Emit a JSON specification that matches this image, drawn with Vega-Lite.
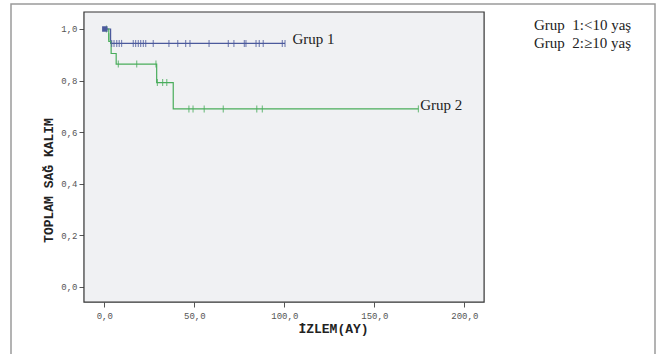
{
  "$schema": "https://vega.github.io/schema/vega-lite/v6.json",
  "width": 644,
  "height": 352,
  "autosize": {"type": "none"},
  "padding": {"left": 11, "top": 4, "right": 10, "bottom": 0},
  "background": "#ffffff",
  "config": {
    "view": {"fill": "#ffffff", "stroke": "#9a9a9a", "strokeWidth": 1.5},
    "axis": {
      "domain": false, "grid": false,
      "tickColor": "#555555", "tickSize": 5,
      "labelFont": "Liberation Mono", "labelFontSize": 9, "labelColor": "#555555",
      "titleFont": "Liberation Mono", "titleFontSize": 13, "titleFontWeight": "bold", "titleColor": "#222222"
    }
  },
  "datasets": {
    "curve": [
      {"group": "Grup \u00a01:<10 yaş", "t": 0, "s": 1.0},
      {"group": "Grup \u00a01:<10 yaş", "t": 3.5, "s": 0.944},
      {"group": "Grup \u00a01:<10 yaş", "t": 100.4, "s": 0.944},
      {"group": "Grup \u00a02:≥10 yaş", "t": 0, "s": 1.0},
      {"group": "Grup \u00a02:≥10 yaş", "t": 2.5, "s": 0.952},
      {"group": "Grup \u00a02:≥10 yaş", "t": 3.8, "s": 0.905},
      {"group": "Grup \u00a02:≥10 yaş", "t": 6.6, "s": 0.864},
      {"group": "Grup \u00a02:≥10 yaş", "t": 29.1, "s": 0.792},
      {"group": "Grup \u00a02:≥10 yaş", "t": 38.3, "s": 0.69},
      {"group": "Grup \u00a02:≥10 yaş", "t": 174.5, "s": 0.69}
    ],
    "censor": [
      {"group": "Grup \u00a01:<10 yaş", "t": 4.1, "s": 0.944},
      {"group": "Grup \u00a01:<10 yaş", "t": 5.4, "s": 0.944},
      {"group": "Grup \u00a01:<10 yaş", "t": 6.9, "s": 0.944},
      {"group": "Grup \u00a01:<10 yaş", "t": 8.3, "s": 0.944},
      {"group": "Grup \u00a01:<10 yaş", "t": 9.6, "s": 0.944},
      {"group": "Grup \u00a01:<10 yaş", "t": 16.1, "s": 0.944},
      {"group": "Grup \u00a01:<10 yaş", "t": 17.4, "s": 0.944},
      {"group": "Grup \u00a01:<10 yaş", "t": 18.9, "s": 0.944},
      {"group": "Grup \u00a01:<10 yaş", "t": 20.2, "s": 0.944},
      {"group": "Grup \u00a01:<10 yaş", "t": 21.7, "s": 0.944},
      {"group": "Grup \u00a01:<10 yaş", "t": 23.0, "s": 0.944},
      {"group": "Grup \u00a01:<10 yaş", "t": 27.2, "s": 0.944},
      {"group": "Grup \u00a01:<10 yaş", "t": 35.9, "s": 0.944},
      {"group": "Grup \u00a01:<10 yaş", "t": 40.8, "s": 0.944},
      {"group": "Grup \u00a01:<10 yaş", "t": 45.2, "s": 0.944},
      {"group": "Grup \u00a01:<10 yaş", "t": 47.6, "s": 0.944},
      {"group": "Grup \u00a01:<10 yaş", "t": 58.2, "s": 0.944},
      {"group": "Grup \u00a01:<10 yaş", "t": 68.9, "s": 0.944},
      {"group": "Grup \u00a01:<10 yaş", "t": 72.0, "s": 0.944},
      {"group": "Grup \u00a01:<10 yaş", "t": 77.8, "s": 0.944},
      {"group": "Grup \u00a01:<10 yaş", "t": 78.7, "s": 0.944},
      {"group": "Grup \u00a01:<10 yaş", "t": 84.3, "s": 0.944},
      {"group": "Grup \u00a01:<10 yaş", "t": 86.1, "s": 0.944},
      {"group": "Grup \u00a01:<10 yaş", "t": 88.3, "s": 0.944},
      {"group": "Grup \u00a01:<10 yaş", "t": 98.9, "s": 0.944},
      {"group": "Grup \u00a01:<10 yaş", "t": 100.4, "s": 0.944},
      {"group": "Grup \u00a02:≥10 yaş", "t": 1.2, "s": 1.0},
      {"group": "Grup \u00a02:≥10 yaş", "t": 2.5, "s": 0.97},
      {"group": "Grup \u00a02:≥10 yaş", "t": 7.8, "s": 0.864},
      {"group": "Grup \u00a02:≥10 yaş", "t": 18.0, "s": 0.864},
      {"group": "Grup \u00a02:≥10 yaş", "t": 28.7, "s": 0.864},
      {"group": "Grup \u00a02:≥10 yaş", "t": 29.5, "s": 0.792},
      {"group": "Grup \u00a02:≥10 yaş", "t": 32.4, "s": 0.792},
      {"group": "Grup \u00a02:≥10 yaş", "t": 34.7, "s": 0.792},
      {"group": "Grup \u00a02:≥10 yaş", "t": 47.0, "s": 0.69},
      {"group": "Grup \u00a02:≥10 yaş", "t": 49.3, "s": 0.69},
      {"group": "Grup \u00a02:≥10 yaş", "t": 55.5, "s": 0.69},
      {"group": "Grup \u00a02:≥10 yaş", "t": 66.1, "s": 0.69},
      {"group": "Grup \u00a02:≥10 yaş", "t": 84.7, "s": 0.69},
      {"group": "Grup \u00a02:≥10 yaş", "t": 87.8, "s": 0.69},
      {"group": "Grup \u00a02:≥10 yaş", "t": 174.5, "s": 0.69}
    ],
    "start": [
      {"group": "Grup \u00a01:<10 yaş", "t": 0.3, "s": 1.0}
    ],
    "labels": [
      {"label": "Grup 1", "t": 104.5, "s": 0.944},
      {"label": "Grup 2", "t": 175.5, "s": 0.69}
    ]
  },
  "layer": [
    {
      "data": {"values": [{}]},
      "mark": {"type": "rect", "fill": "#f0f1f3", "stroke": "#333333", "strokeWidth": 1.2},
      "encoding": {
        "x": {"datum": -11.3, "type": "quantitative"},
        "x2": {"datum": 211},
        "y": {"datum": 1.066, "type": "quantitative"},
        "y2": {"datum": -0.06}
      }
    },
    {
      "data": {"name": "curve"},
      "mark": {"type": "line", "interpolate": "step-after", "strokeWidth": 1.2},
      "encoding": {
        "x": {"field": "t", "type": "quantitative",
              "scale": {"domain": [-51.83, 305.94], "nice": false, "zero": false},
              "axis": {"values": [0, 50, 100, 150, 200], "title": "İZLEM(AY)", "offset": -54,
                       "labelExpr": "replace(format(datum.value, '.1f'), '.', ',')", "labelPadding": 4, "titlePadding": 2}},
        "y": {"field": "s", "type": "quantitative",
              "scale": {"domain": [-0.2689, 1.097], "nice": false, "zero": false},
              "axis": {"values": [0, 0.2, 0.4, 0.6, 0.8, 1.0], "title": "TOPLAM SAĞ KALIM", "offset": -73,
                       "labelExpr": "replace(format(datum.value, '.1f'), '.', ',')", "labelPadding": 2, "titlePadding": 5}},
        "color": {"field": "group", "type": "nominal",
                  "scale": {"domain": ["Grup \u00a01:<10 yaş", "Grup \u00a02:≥10 yaş"], "range": ["#4b5a9c", "#49ad5b"]},
                  "legend": {"orient": "none", "legendX": 508, "legendY": 13, "title": null,
                             "symbolSize": 0, "symbolOpacity": 0, "symbolStrokeWidth": 0, "labelOffset": 0,
                             "labelFont": "Liberation Serif", "labelFontSize": 15, "labelColor": "#222222",
                             "rowPadding": 2}},
        "detail": {"field": "group"}
      }
    },
    {
      "data": {"name": "censor"},
      "mark": {"type": "tick", "orient": "vertical", "size": 7, "thickness": 1.2},
      "encoding": {
        "x": {"field": "t", "type": "quantitative"},
        "y": {"field": "s", "type": "quantitative"},
        "color": {"field": "group", "type": "nominal", "legend": null}
      }
    },
    {
      "data": {"name": "start"},
      "mark": {"type": "square", "size": 30, "opacity": 1},
      "encoding": {
        "x": {"field": "t", "type": "quantitative"},
        "y": {"field": "s", "type": "quantitative"},
        "color": {"field": "group", "type": "nominal", "legend": null}
      }
    },
    {
      "data": {"name": "labels"},
      "mark": {"type": "text", "align": "left", "baseline": "middle", "dy": -4, "font": "Liberation Serif", "fontSize": 15, "color": "#222222"},
      "encoding": {
        "x": {"field": "t", "type": "quantitative"},
        "y": {"field": "s", "type": "quantitative"},
        "text": {"field": "label"}
      }
    }
  ]
}
